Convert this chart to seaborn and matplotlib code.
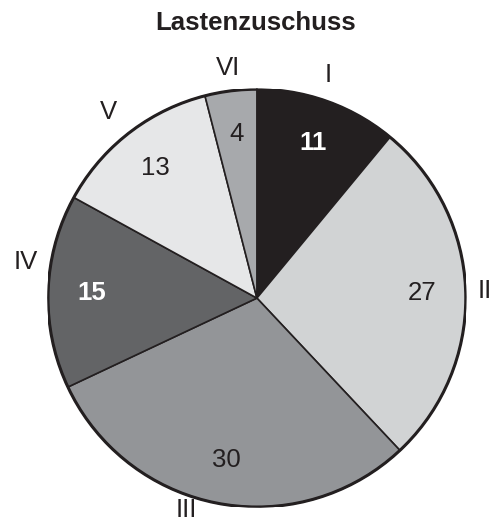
import matplotlib
matplotlib.use("Agg")
import matplotlib.pyplot as plt
import numpy as np
import seaborn as sns

sns.set_theme(style="white")
plt.rcParams['font.family'] = ['Liberation Sans', 'DejaVu Sans']

# data
categories = ["I", "II", "III", "IV", "V", "VI"]
values = [11, 27, 30, 15, 13, 4]
colors = ["#231f20", "#d1d3d4", "#939598", "#636466", "#e6e7e8", "#a7a9ac"]
white_bold = [True, False, False, True, False, False]

# label placement tweaks (angle shift in degrees, radius)
label_shift = [2, 0, -7.5, -7, 0.9, 0]
label_radius = [1.12, 1.09, 1.07, 1.12, 1.14, 1.11]

fig = plt.figure(figsize=(4.95, 5.18), dpi=100)
ax = fig.add_axes([0.097, 0.021, 0.844, 0.807])

wedges, texts, autotexts = ax.pie(
    values, labels=categories, colors=colors, startangle=90, counterclock=False,
    autopct=lambda p: f"{p:.0f}", pctdistance=0.79, labeldistance=1.1,
    wedgeprops=dict(edgecolor="#231f20", linewidth=1.2),
    textprops=dict(fontsize=18.5, color="#231f20"),
)
for w, t, sh, r in zip(wedges, texts, label_shift, label_radius):
    ang = np.deg2rad((w.theta1 + w.theta2) / 2 + sh)
    t.set_position((r * np.cos(ang), r * np.sin(ang)))
    t.set_ha("center")
    t.set_va("center")
for t, wb in zip(autotexts, white_bold):
    if wb:
        t.set_color("white")
        t.set_fontweight("bold")

ax.add_patch(plt.Circle((0, 0), 1, fill=False, edgecolor="#231f20", linewidth=2.2))
ax.set_xlim(-1, 1)
ax.set_ylim(-1, 1)
ax.set_aspect("equal")
ax.axis("off")

fig.text(0.516, 0.942, "Lastenzuschuss", ha="center", va="baseline",
         fontsize=18.5, fontweight="bold", color="#231f20")

fig.savefig("out.png", dpi=100)
